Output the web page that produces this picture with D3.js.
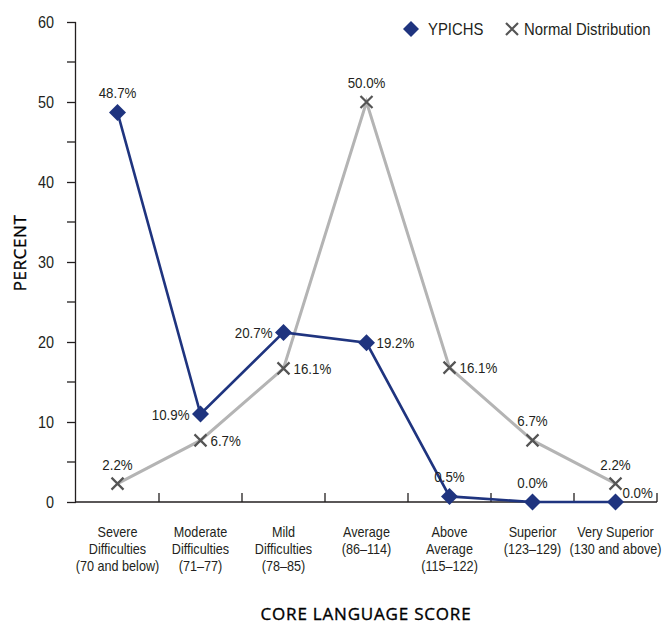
<!DOCTYPE html>
<html><head><meta charset="utf-8">
<script src="https://cdn.jsdelivr.net/npm/d3@7"></script>
<style>
html,body{margin:0;padding:0;background:#fff;}
svg text{font-family:"Liberation Sans",Arial,sans-serif;}
</style></head>
<body>
<svg id="chart" width="664" height="625"></svg>
<script>
const categories = [
  ["Severe","Difficulties","(70 and below)"],
  ["Moderate","Difficulties","(71\u201377)"],
  ["Mild","Difficulties","(78\u201385)"],
  ["Average","(86\u2013114)"],
  ["Above","Average","(115\u2013122)"],
  ["Superior","(123\u2013129)"],
  ["Very Superior","(130 and above)"]
];
const ypichsValues = [48.7, 11.0, 21.2, 19.9, 0.7, 0.0, 0.0];
const ypichsLabels = ["48.7%","10.9%","20.7%","19.2%","0.5%","0.0%","0.0%"];
const normalValues = [2.3, 7.7, 16.7, 50.0, 16.8, 7.7, 2.3];
const normalLabels = ["2.2%","6.7%","16.1%","50.0%","16.1%","6.7%","2.2%"];
const yTicks = [0,10,20,30,40,50,60];
const yMinorTicks = [5,15,25,35,45,55];
const ypichsPlace = ["top","left","left","right","top","top","rightlow"];
const normalPlace = ["top","right","right","top","right","top","top"];

(function(){
const svg = d3.select("#chart");
const mL = 76, mR = 657, mT = 22, mB = 502;
const x = d3.scaleBand().domain(d3.range(categories.length)).range([mL, mR]);
const y = d3.scaleLinear().domain([0, 60]).range([mB, mT]);
const cx = i => x(i) + x.bandwidth()/2;
const ink = "#231f20";

// condensed text helper
function ctext(parent, tx, ty, anchor, size, sx, str){
  return parent.append("g").attr("transform", `translate(${tx},${ty}) scale(${sx},1)`)
    .append("text").attr("x",0).attr("y",0).attr("text-anchor",anchor)
    .attr("font-size",size).attr("fill",ink).text(str);
}

// y axis
const yAxis = svg.append("g").attr("transform", `translate(${mL},0)`)
  .call(d3.axisLeft(y).tickValues(yTicks).tickSize(9).tickPadding(0).tickFormat(""));
yAxis.select(".domain").attr("stroke",ink).attr("stroke-width",1.3).attr("d",`M-0.5,${mT}V${mB}`);
yAxis.selectAll(".tick line").attr("stroke",ink).attr("stroke-width",1.3);
const yLab = svg.append("g");
yTicks.forEach(t => ctext(yLab, mL-22, y(t)+5.5, "end", 16, 0.9, d3.format("d")(t)));
svg.append("g").selectAll("line").data(yMinorTicks).join("line")
  .attr("x1", mL-9).attr("x2", mL).attr("y1", d=>y(d)).attr("y2", d=>y(d))
  .attr("stroke",ink).attr("stroke-width",1.3);

// x axis
svg.append("line").attr("x1", mL-1).attr("x2", mR).attr("y1", mB).attr("y2", mB)
  .attr("stroke",ink).attr("stroke-width",1.3);
const bounds = d3.range(1, categories.length+1).map(i => i < categories.length ? x(i) : mR);
svg.append("g").selectAll("line").data(bounds).join("line")
  .attr("x1", d=>d).attr("x2", d=>d).attr("y1", mB).attr("y2", mB-9)
  .attr("stroke",ink).attr("stroke-width",1.3);
const catG = svg.append("g");
categories.forEach((lines, i) => {
  lines.forEach((l, j) => ctext(catG, cx(i), 537 + j*17.2, "middle", 14.2, 0.89, l));
});

// axis titles
svg.append("text").attr("transform","translate(26,253) rotate(-90)").attr("text-anchor","middle")
  .attr("font-size",17).attr("fill","#000").attr("stroke","#000").attr("stroke-width",0.35)
  .style("font-family","'Open Sans','Noto Sans',sans-serif")
  .attr("letter-spacing",0.6).text("PERCENT");
svg.append("text").attr("x",366).attr("y",620).attr("text-anchor","middle")
  .attr("font-size",17).attr("fill","#000").attr("stroke","#000").attr("stroke-width",0.35)
  .style("font-family","'Open Sans','Noto Sans',sans-serif")
  .attr("letter-spacing",0.8).text("CORE LANGUAGE SCORE");

const navy = "#1f347f", grayLine = "#b4b4b4", grayMark = "#555555";
const line = d3.line().x((d,i)=>cx(i)).y(d=>y(d));

svg.append("path").datum(normalValues).attr("d", line).attr("fill","none")
  .attr("stroke", grayLine).attr("stroke-width",3);
svg.append("path").datum(ypichsValues).attr("d", line).attr("fill","none")
  .attr("stroke", navy).attr("stroke-width",2.6);

const xs = 6;
svg.append("g").selectAll("path").data(normalValues).join("path")
  .attr("d",(d,i)=>`M${cx(i)-xs},${y(d)-xs}L${cx(i)+xs},${y(d)+xs}M${cx(i)-xs},${y(d)+xs}L${cx(i)+xs},${y(d)-xs}`)
  .attr("stroke", grayMark).attr("stroke-width",2.2).attr("fill","none");
const ds = 8.5;
svg.append("g").selectAll("path").data(ypichsValues).join("path")
  .attr("d",(d,i)=>`M${cx(i)},${y(d)-ds}L${cx(i)+ds},${y(d)}L${cx(i)},${y(d)+ds}L${cx(i)-ds},${y(d)}Z`)
  .attr("fill", navy);

function placeLabel(g, val, i, text, place){
  const px = cx(i), py = y(val);
  let tx = px, ty = py, anchor = "middle";
  if (place === "top") { ty = py - 14; }
  else if (place === "left") { tx = px - 11; ty = py + 5.5; anchor = "end"; }
  else if (place === "right") { tx = px + 10; ty = py + 5.5; anchor = "start"; }
  else if (place === "rightlow") { tx = px + 7; ty = py - 4.5; anchor = "start"; }
  ctext(g, tx, ty, anchor, 14.8, 0.9, text);
}
const lblG = svg.append("g");
ypichsValues.forEach((v,i)=>placeLabel(lblG, v, i, ypichsLabels[i], ypichsPlace[i]));
normalValues.forEach((v,i)=>placeLabel(lblG, v, i, normalLabels[i], normalPlace[i]));

const lg = svg.append("g");
lg.append("path").attr("d", `M411,${29-8}L${411+8},29L411,${29+8}L${411-8},29Z`).attr("fill", navy);
ctext(lg, 428, 35, "start", 16, 0.93, "YPICHS");
lg.append("path").attr("d", `M${512-6},${29-6}L${512+6},${29+6}M${512-6},${29+6}L${512+6},${29-6}`)
  .attr("stroke", grayMark).attr("stroke-width",2.2);
ctext(lg, 524, 35, "start", 16, 0.93, "Normal Distribution");
})();
</script>
</body></html>
